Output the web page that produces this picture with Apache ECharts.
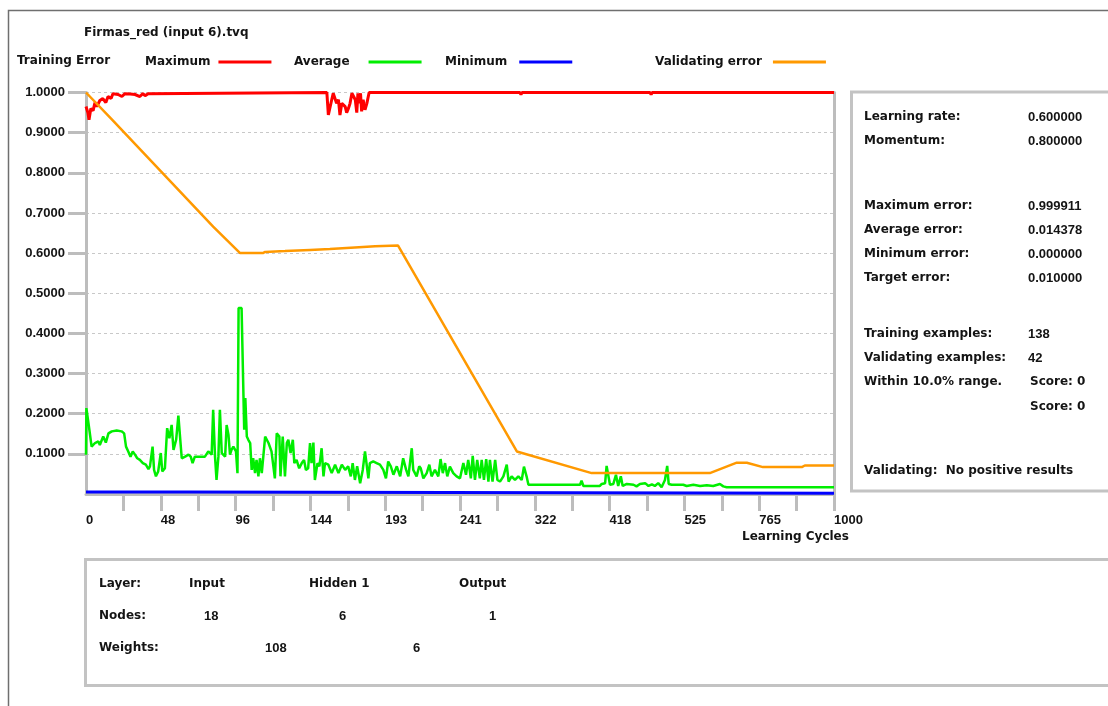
<!DOCTYPE html>
<html>
<head>
<meta charset="utf-8">
<script src="https://cdn.jsdelivr.net/npm/echarts@6/dist/echarts.min.js"></script>
<style>
html,body{margin:0;padding:0;background:#fff;}
#chart{width:1108px;height:706px;}
</style>
</head>
<body>
<div id="chart"></div>
<script>
// ---- tick labels ----
const xTickLabels = ['0','48','96','144','193','241','322','418','525','765','1000'];
const yTickLabels = ['','0.1000','0.2000','0.3000','0.4000','0.5000','0.6000','0.7000','0.8000','0.9000','1.0000'];

// ---- series (x = position along the compressed cycle axis, 0..200; y = error) ----
const maximumErr = [
 [0,0.965],[0.5,0.95],[0.8,0.932],[1.3,0.96],[1.9,0.955],[2.4,0.975],[2.9,0.965],[3.7,0.98],[4.5,0.985],
 [5.3,0.975],[5.9,0.99],[6.7,0.985],[7.2,0.997],[8.6,0.995],[9.6,0.99],[10.4,0.997],[11.8,0.996],[13.1,0.995],
 [14.4,0.99],[15.2,0.997],[15.8,0.992],[16.6,0.997],[17.1,1.0],
 [64.4,1.0],[64.8,0.944],[65.2,0.948],[65.7,0.982],[66.1,0.998],[66.6,0.994],[67.0,0.973],[67.5,0.982],
 [67.9,0.944],[68.4,0.973],[68.8,0.977],[69.3,0.965],[69.7,0.95],[70.2,0.961],[70.6,0.973],[71.1,0.998],
 [71.5,0.998],[72.0,0.982],[72.4,0.95],[72.7,0.998],[73.0,0.973],[73.4,0.998],[73.7,0.953],[74.1,0.982],
 [74.6,0.957],[75.1,0.973],[75.5,0.977],[75.7,1.0],
 [116.0,1.0],[116.3,0.995],[116.6,1.0],[150.8,1.0],[151.1,0.995],[151.4,1.0],[200,1.0]
];
const averageErr = [
 [0,0.098],[0.1,0.214],[0.6,0.21],[0.9,0.16],[1.5,0.118],[2.4,0.127],[3.3,0.131],[3.7,0.122],[4.6,0.143],
 [5.3,0.128],[6.0,0.151],[6.9,0.156],[8.2,0.158],[9.5,0.156],[10.2,0.151],[10.7,0.118],[11.3,0.106],[11.9,0.093],
 [12.5,0.106],[13.1,0.098],[13.7,0.089],[14.4,0.085],[15.2,0.077],[16.0,0.073],[16.7,0.062],[17.1,0.069],
 [17.8,0.118],[18.2,0.06],[18.7,0.044],[19.3,0.056],[20.0,0.102],[20.4,0.056],[21.1,0.064],[21.7,0.164],
 [22.3,0.139],[22.9,0.172],[23.4,0.11],[24.1,0.135],[24.7,0.195],[25.1,0.193],[25.6,0.089],[26.5,0.093],
 [27.4,0.098],[28.0,0.093],[28.5,0.077],[29.1,0.093],[30.5,0.093],[31.8,0.093],[32.7,0.106],[33.6,0.098],
 [34.0,0.21],[34.5,0.093],[34.9,0.035],[35.4,0.093],[35.8,0.21],[36.3,0.102],[36.7,0.106],[37.2,0.093],
 [37.6,0.172],[38.1,0.147],[38.5,0.098],[38.9,0.11],[39.4,0.118],[40.1,0.106],[40.5,0.052],[40.8,0.463],
 [41.6,0.463],[42.1,0.459],[42.3,0.16],[42.6,0.239],[43.0,0.143],[43.4,0.135],[43.9,0.127],[44.3,0.06],
 [44.7,0.089],[45.2,0.052],[45.6,0.085],[46.1,0.044],[46.5,0.089],[47.0,0.052],[47.9,0.143],[48.8,0.127],
 [49.6,0.106],[50.5,0.039],[51.0,0.151],[51.7,0.143],[52.0,0.044],[52.6,0.143],[53.2,0.044],[53.7,0.127],
 [54.1,0.135],[54.7,0.102],[55.3,0.135],[55.7,0.077],[56.3,0.085],[57.0,0.064],[57.7,0.077],[58.3,0.085],
 [58.8,0.06],[59.4,0.064],[59.9,0.127],[60.3,0.077],[60.8,0.128],[61.2,0.035],[61.9,0.077],[62.4,0.069],
 [63.0,0.114],[63.5,0.044],[63.9,0.077],[64.8,0.073],[65.7,0.052],[66.6,0.073],[67.5,0.052],[68.4,0.073],
 [69.3,0.06],[70.1,0.069],[70.8,0.044],[71.3,0.077],[71.9,0.035],[72.5,0.069],[73.3,0.027],[74.0,0.06],
 [74.6,0.106],[75.0,0.102],[75.5,0.039],[75.9,0.077],[76.8,0.081],[77.7,0.077],[78.6,0.073],[79.5,0.06],
 [80.2,0.039],[80.8,0.081],[81.5,0.069],[82.2,0.048],[83.1,0.069],[84.0,0.044],[84.8,0.089],[85.6,0.06],
 [86.2,0.044],[87.1,0.114],[87.5,0.06],[88.4,0.044],[89.1,0.069],[89.5,0.064],[90.2,0.039],[91.1,0.052],
 [91.8,0.073],[92.4,0.044],[93.3,0.06],[94.2,0.044],[94.8,0.087],[95.4,0.052],[96.0,0.077],[96.6,0.044],
 [97.3,0.068],[98.2,0.052],[99.1,0.044],[100.0,0.039],[100.9,0.077],[101.6,0.048],[102.2,0.085],[102.9,0.039],
 [103.4,0.095],[104.0,0.035],[104.6,0.085],[105.3,0.039],[105.8,0.085],[106.4,0.035],[107.0,0.087],[107.6,0.031],
 [108.0,0.085],[108.7,0.031],[109.4,0.085],[110.0,0.035],[110.7,0.031],[111.6,0.044],[112.5,0.073],[113.0,0.031],
 [113.8,0.044],[114.7,0.035],[115.6,0.044],[116.5,0.035],[117.1,0.068],[117.8,0.044],[118.3,0.023],
 [132.1,0.023],[132.5,0.033],[133.0,0.02],[137.4,0.02],[137.9,0.025],[138.8,0.027],[139.2,0.07],[139.7,0.068],
 [140.1,0.023],[141.0,0.025],[141.7,0.048],[142.3,0.02],[143.0,0.044],[143.5,0.02],[144.6,0.025],[146.4,0.023],
 [147.2,0.019],[148.1,0.025],[149.5,0.027],[150.4,0.02],[151.3,0.024],[152.1,0.02],[153.0,0.027],[153.9,0.017],
 [154.8,0.035],[155.4,0.07],[155.8,0.025],[156.6,0.023],[159.7,0.023],[160.6,0.02],[162.4,0.023],[164.2,0.02],
 [166.0,0.022],[167.7,0.02],[169.5,0.025],[170.4,0.019],[171.3,0.017],[200,0.017]
];
const minimumErr = [[0,0.005],[27.2,0.005],[27.4,0.002],[200,0.002]];
const validatingErr = [
 [0,1.0],[6.9,0.933],[34.0,0.666],[41.2,0.6],[47.3,0.6],[47.9,0.603],[53.2,0.605],[59.9,0.608],[65.2,0.61],
 [71.9,0.614],[77.3,0.617],[83.4,0.619],[115.2,0.106],[135.2,0.052],[166.8,0.052],[174.0,0.078],[176.7,0.078],
 [181.0,0.067],[191.4,0.067],[192.2,0.071],[200,0.071]
];

// ---- panel texts ----
const infoLabels = ['Learning rate:','Momentum:','Maximum error:','Average error:','Minimum error:','Target error:','Training examples:','Validating examples:','Within 10.0% range.','','Validating:  No positive results'];
const infoValues = ['0.600000','0.800000','0.999911','0.014378','0.000000','0.010000','138','42','Score: 0','Score: 0',''];
const layerNames = ['Input','Hidden 1','Output'];
const layerNodes = ['18','6','1'];
const layerWeights = ['108','6'];

const TXT = '#141414';
const FONT_T = 'bold 12px "DejaVu Sans"';
const FONT_N = 'bold 13px "Liberation Sans"';
const GRAY = '#bdbdbd';

// tick positions (skip the origin, where the other axis lies)
const xTickValues = []; for (let i = 1; i <= 20; i++) xTickValues.push(i * 10);
const yTickValues = yTickLabels.map((s, i) => i / 10).filter(v => v > 0);

const graphic = [];
graphic.push({type:'polyline', shape:{points:[[8.5,706],[8.5,10.5],[1108,10.5]]}, style:{stroke:'#6f6f6f', lineWidth:1.5, fill:null}});
function txt(x, y, s, font){ graphic.push({type:'text', x:x, y:y, style:{text:s, font:font||FONT_T, fill:TXT, verticalAlign:'middle', align:'left'}}); }
txt(84, 33, 'Firmas_red (input 6).tvq');
txt(17, 61, 'Training Error');
txt(742, 537, 'Learning Cycles');
// right panel
graphic.push({type:'rect', shape:{x:851.5, y:92, width:270, height:399}, style:{stroke:'#c3c3c3', lineWidth:3, fill:null}});
const infoY = [117,141,206,230,254,278,334,358,382,407,471];
infoLabels.forEach((s,i)=>{ if(s) txt(864, infoY[i], s); });
infoValues.forEach((s,i)=>{ if(s) txt(s.startsWith('Score')?1030:1028, infoY[i], s, s.startsWith('Score')?FONT_T:FONT_N); });
// bottom panel
graphic.push({type:'rect', shape:{x:85.5, y:559.5, width:1040, height:126}, style:{stroke:'#c3c3c3', lineWidth:3, fill:null}});
txt(99, 584, 'Layer:'); txt(99, 616, 'Nodes:'); txt(99, 648, 'Weights:');
const layerX = [189, 309, 459], nodeX = [204, 339, 489], weightX = [265, 413];
layerNames.forEach((s,i)=>txt(layerX[i], 584, s));
layerNodes.forEach((s,i)=>txt(nodeX[i], 616, s, FONT_N));
layerWeights.forEach((s,i)=>txt(weightX[i], 648, s, FONT_N));

function legendFor(name, left, padR){
  return {data:[name], left:left, top:56, orient:'horizontal', align:'right', selectedMode:false,
    icon:'rect', itemWidth:53, itemHeight:3, padding:0,
    textStyle:{fontFamily:'DejaVu Sans', fontWeight:'bold', fontSize:12, color:TXT, padding:[0,padR,0,0]}};
}

const chart = echarts.init(document.getElementById('chart'), null, {renderer:'canvas'});
chart.setOption({
  animation:false,
  backgroundColor:'#ffffff',
  legend:[legendFor('Maximum',145,3), legendFor('Average',294,14), legendFor('Minimum',445,7), legendFor('Validating error',655,6)],
  grid:{left:86, top:92.5, width:748, height:401.5, containLabel:false},
  xAxis:{type:'value', min:0, max:200, interval:10,
    axisLine:{show:true, onZero:false, lineStyle:{color:GRAY, width:3}},
    axisTick:{show:true, length:17, customValues:xTickValues, lineStyle:{color:GRAY, width:3}},
    splitLine:{show:false},
    axisLabel:{show:true, margin:20, align:'left', color:TXT, fontFamily:'Liberation Sans', fontWeight:'bold', fontSize:13,
      formatter:v=> (Math.round(v)%20===0) ? xTickLabels[Math.round(v)/20] : ''}},
  yAxis:[{type:'value', min:0, max:1, interval:0.1,
    axisLine:{show:true, lineStyle:{color:GRAY, width:3}},
    axisTick:{show:true, length:18, customValues:yTickValues, lineStyle:{color:GRAY, width:3}},
    splitLine:{show:true, lineStyle:{color:'#c8c8c8', width:1, type:[3,3]}},
    axisLabel:{margin:21, color:TXT, fontFamily:'Liberation Sans', fontWeight:'bold', fontSize:13,
      formatter:v=> yTickLabels[Math.round(v*10)]}},
    {type:'value', min:0, max:1, interval:0.1, position:'right',
    axisLine:{show:true, lineStyle:{color:GRAY, width:3}}, axisTick:{show:false}, axisLabel:{show:false}, splitLine:{show:false}}],
  series:[
    {name:'Minimum', type:'line', data:minimumErr, showSymbol:false, clip:false, color:'#0000ff', lineStyle:{width:3, color:'#0000ff'}, z:3},
    {name:'Average', type:'line', data:averageErr, showSymbol:false, clip:false, color:'#00ee00', lineStyle:{width:2.5, color:'#00ee00'}, z:4},
    {name:'Maximum', type:'line', data:maximumErr, showSymbol:false, clip:false, color:'#ff0000', lineStyle:{width:3, color:'#ff0000'}, z:5},
    {name:'Validating error', type:'line', data:validatingErr, showSymbol:false, clip:false, color:'#ff9900', lineStyle:{width:2.5, color:'#ff9900'}, z:6}
  ],
  graphic:graphic
});
</script>
</body>
</html>
